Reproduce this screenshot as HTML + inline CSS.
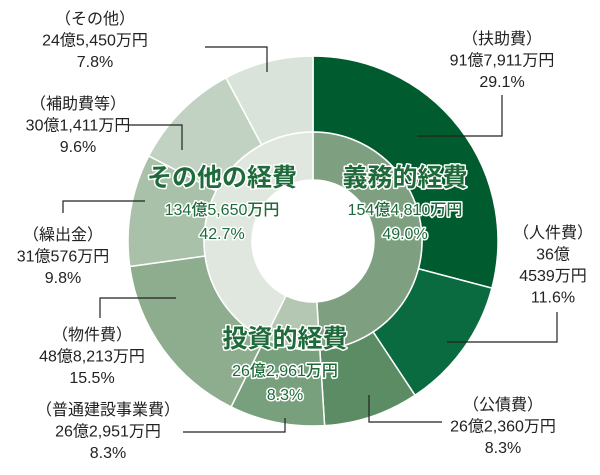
<!DOCTYPE html>
<html><head><meta charset="utf-8"><style>
body{margin:0;background:#fff}
svg text{font-family:"Liberation Sans","Noto Sans CJK JP",sans-serif}
.lb{font-size:16px;fill:#222;text-anchor:middle}
.in{font-weight:bold;fill:#1e6a3a;text-anchor:middle;stroke:#fff;stroke-width:3px;paint-order:stroke;stroke-linejoin:round}
.in2{font-weight:500;fill:#1e6a3a;text-anchor:middle;stroke:#fff;stroke-width:3px;paint-order:stroke;stroke-linejoin:round}
</style></head><body>
<svg id="c" width="600" height="470" viewBox="0 0 600 470">
<g id="rings"></g>
<g id="lines" stroke="#222" stroke-width="1.2" fill="none"></g>
<g id="labels"></g>
</svg>
<script>
const outerNames=["扶助費","人件費","公債費","普通建設事業費","物件費","繰出金","補助費等","その他"];
const outerValues=[29.1,11.6,8.3,8.3,15.5,9.8,9.6,7.8];
const outerAmounts=["91億7,911万円","36億|4539万円","26億2,360万円","26億2,951万円","48億8,213万円","31億576万円","30億1,411万円","24億5,450万円"];
const innerNames=["義務的経費","投資的経費","その他の経費"];
const innerValues=[49.0,8.3,42.7];
const innerAmounts=["154億4,810万円","26億2,961万円","134億5,650万円"];
const outerColors=["#005c2e","#0a6b40","#5b8c63","#79a07c","#8eac8e","#a9c0a9","#c2d2c2","#d9e3d9"];
const innerColors=["#7f9f81","#b3c7b3","#dfe7df"];
const cx=313,cy=241,R0=185,R1=109,R2=61;
const NS="http://www.w3.org/2000/svg";
function pt(a,r){return [cx+r*Math.sin(a),cy-r*Math.cos(a)];}
function arc(a0,a1,ro,ri){const l=(a1-a0)>Math.PI?1:0;const p=pt(a0,ro),q=pt(a1,ro),s=pt(a1,ri),t=pt(a0,ri);
return `M${p[0]},${p[1]}A${ro},${ro} 0 ${l} 1 ${q[0]},${q[1]}L${s[0]},${s[1]}A${ri},${ri} 0 ${l} 0 ${t[0]},${t[1]}Z`;}
function ring(vals,cols,ro,ri,prefix){const tot=vals.reduce((a,b)=>a+b,0);let a=0;
vals.forEach((v,i)=>{const a1=a+v/tot*2*Math.PI;const p=document.createElementNS(NS,"path");
p.setAttribute("d",arc(a,a1,ro,ri));p.setAttribute("fill",cols[i]);p.setAttribute("stroke","#fff");p.setAttribute("stroke-width","1.5");


document.getElementById("rings").appendChild(p);a=a1;});}
ring(outerValues,outerColors,R0,R1,"outer");
ring(innerValues,innerColors,R1,R2,"inner");
function txt(x,y,s,cls,size,name){const t=document.createElementNS(NS,"text");t.setAttribute("x",x);t.setAttribute("y",y);t.setAttribute("class",cls);
if(size)t.setAttribute("font-size",size);t.textContent=s;


document.getElementById("labels").appendChild(t);}
const labelPos=[[502,44],[553,238],[503,410],[108,415],[92,340],[63,240],[78,109],[95,24]];
const leaders=["502,95 502,136 417,136","557,312 557,342 447,342","369,395 369,422 442,422","183,432 285,432 285,418","100,318 100,298 176,298","63,213 63,201 145,201","128,125 182,125 182,150","205,47 267,47 267,72"];
outerNames.forEach((n,i)=>{const [x,y]=labelPos[i];const lines=["（"+n+"）"].concat(outerAmounts[i].split("|")).concat([outerValues[i].toFixed(1)+"%"]);
lines.forEach((l,j)=>txt(x,y+j*21.5,l,"lb",null,"label-"+i+"-line-"+j));
const pl=document.createElementNS(NS,"polyline");pl.setAttribute("points",leaders[i]);


document.getElementById("lines").appendChild(pl);});
const innerPos=[[405,186],[285,347],[222,186]];
innerNames.forEach((n,i)=>{const [x,y]=innerPos[i];
txt(x,y,n,"in",25,"inner-title-"+i);
txt(x,y+29,innerAmounts[i],"in2",16,"inner-amount-"+i);
txt(x,y+53,innerValues[i].toFixed(1)+"%","in2",16,"inner-percent-"+i);});
</script>
</body></html>
